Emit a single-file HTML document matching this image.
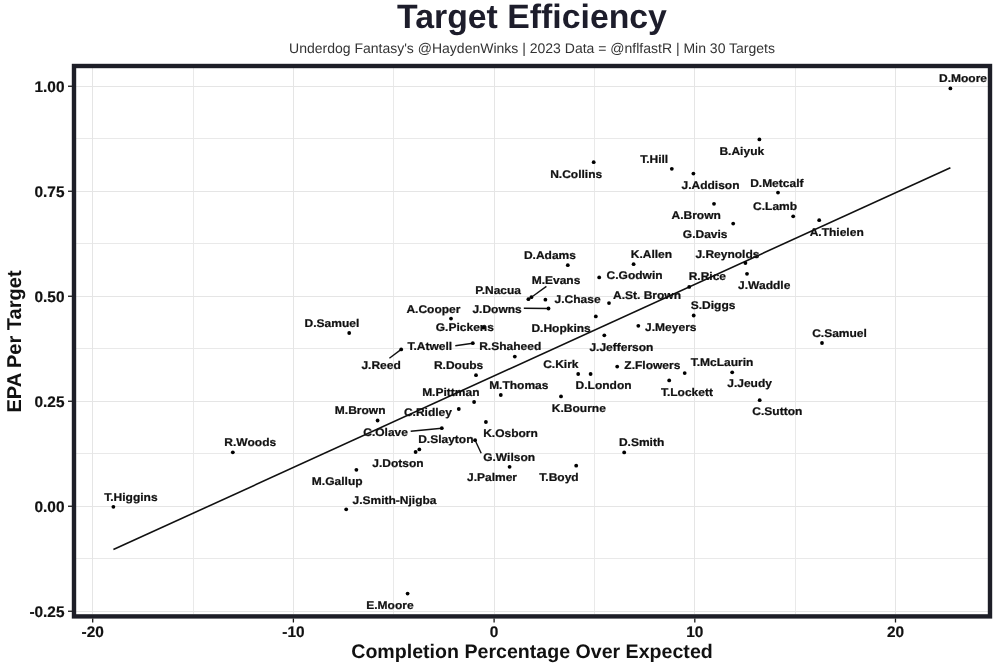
<!DOCTYPE html>
<html><head><meta charset="utf-8"><title>Target Efficiency</title>
<style>
html,body{margin:0;padding:0;background:#fff;}
body{width:1000px;height:667px;overflow:hidden;}
svg{display:block;will-change:transform;font-family:"Liberation Sans",Arial,sans-serif;text-rendering:geometricPrecision;}
.gm{stroke:#e9e9e9;stroke-width:1;}
.gM{stroke:#e5e5e5;stroke-width:1;}
.tk{stroke:#1a1a1a;stroke-width:1.3;}
.ax{font-size:15.4px;font-weight:bold;fill:#111;stroke:#111;stroke-width:0.2px;}
.lab text{font-size:12px;font-weight:bold;fill:#111;text-anchor:middle;stroke:#111;stroke-width:0.25px;}
</style></head>
<body>
<svg width="1000" height="667" viewBox="0 0 1000 667">
<rect width="1000" height="667" fill="#fff"/>
<text x="532" y="28" text-anchor="middle" style="font-size:33.8px;font-weight:bold;fill:#1d1d2b">Target Efficiency</text>
<text x="532" y="52.5" text-anchor="middle" style="font-size:14px;fill:#333">Underdog Fantasy's @HaydenWinks | 2023 Data = @nflfastR | Min 30 Targets</text>
<g>
<line x1="193.5" y1="68" x2="193.5" y2="614" class="gm"/>
<line x1="393.5" y1="68" x2="393.5" y2="614" class="gm"/>
<line x1="594.5" y1="68" x2="594.5" y2="614" class="gm"/>
<line x1="795.5" y1="68" x2="795.5" y2="614" class="gm"/>
<line x1="76" y1="558.5" x2="988" y2="558.5" class="gm"/>
<line x1="76" y1="453.5" x2="988" y2="453.5" class="gm"/>
<line x1="76" y1="348.5" x2="988" y2="348.5" class="gm"/>
<line x1="76" y1="243.5" x2="988" y2="243.5" class="gm"/>
<line x1="76" y1="138.5" x2="988" y2="138.5" class="gm"/>
<line x1="92.5" y1="68" x2="92.5" y2="614" class="gM"/>
<line x1="293.5" y1="68" x2="293.5" y2="614" class="gM"/>
<line x1="494.5" y1="68" x2="494.5" y2="614" class="gM"/>
<line x1="694.5" y1="68" x2="694.5" y2="614" class="gM"/>
<line x1="895.5" y1="68" x2="895.5" y2="614" class="gM"/>
<line x1="76" y1="611.5" x2="988" y2="611.5" class="gM"/>
<line x1="76" y1="506.5" x2="988" y2="506.5" class="gM"/>
<line x1="76" y1="401.5" x2="988" y2="401.5" class="gM"/>
<line x1="76" y1="296.5" x2="988" y2="296.5" class="gM"/>
<line x1="76" y1="191.5" x2="988" y2="191.5" class="gM"/>
<line x1="76" y1="86.5" x2="988" y2="86.5" class="gM"/>
</g>
<line x1="113.4" y1="549.6" x2="950.4" y2="167.8" stroke="#111" stroke-width="1.6"/>
<g stroke="#111" stroke-width="1.4">
<line x1="531.4" y1="297.2" x2="546.4" y2="286.4"/>
<line x1="523.8" y1="308.2" x2="548.5" y2="308.5"/>
<line x1="455.3" y1="345.8" x2="472.8" y2="343.2"/>
<line x1="389.4" y1="358.2" x2="401.2" y2="349.4"/>
<line x1="410.7" y1="431.2" x2="441.8" y2="428.2"/>
<line x1="475.1" y1="440.2" x2="481.2" y2="453.2"/>
</g>
<g fill="#000">
<circle cx="950.4" cy="88.4" r="1.9"/>
<circle cx="759.4" cy="139.4" r="1.9"/>
<circle cx="593.7" cy="162.2" r="1.9"/>
<circle cx="671.8" cy="168.8" r="1.9"/>
<circle cx="693.4" cy="173.6" r="1.9"/>
<circle cx="778" cy="192.6" r="1.9"/>
<circle cx="714" cy="203.8" r="1.9"/>
<circle cx="793.2" cy="216.3" r="1.9"/>
<circle cx="733.2" cy="223.6" r="1.9"/>
<circle cx="819.2" cy="220.2" r="1.9"/>
<circle cx="567.8" cy="265.2" r="1.9"/>
<circle cx="633.6" cy="264.2" r="1.9"/>
<circle cx="745.4" cy="263" r="1.9"/>
<circle cx="599.2" cy="277.4" r="1.9"/>
<circle cx="689.2" cy="286.9" r="1.9"/>
<circle cx="747" cy="273.8" r="1.9"/>
<circle cx="528.4" cy="299.2" r="1.9"/>
<circle cx="531.4" cy="297.2" r="1.9"/>
<circle cx="545.4" cy="299.7" r="1.9"/>
<circle cx="609" cy="303.1" r="1.9"/>
<circle cx="548.5" cy="308.5" r="1.9"/>
<circle cx="693.7" cy="315.5" r="1.9"/>
<circle cx="451" cy="318.6" r="1.9"/>
<circle cx="349.2" cy="333" r="1.9"/>
<circle cx="483.5" cy="327.5" r="1.9"/>
<circle cx="595.8" cy="316.4" r="1.9"/>
<circle cx="638.3" cy="325.8" r="1.9"/>
<circle cx="822" cy="343" r="1.9"/>
<circle cx="604.3" cy="335.3" r="1.9"/>
<circle cx="472.8" cy="343.2" r="1.9"/>
<circle cx="514.8" cy="356.6" r="1.9"/>
<circle cx="401.2" cy="349.4" r="1.9"/>
<circle cx="476" cy="375.2" r="1.9"/>
<circle cx="578.2" cy="374" r="1.9"/>
<circle cx="617.2" cy="366.6" r="1.9"/>
<circle cx="684.7" cy="373.1" r="1.9"/>
<circle cx="500.8" cy="395" r="1.9"/>
<circle cx="590.6" cy="374" r="1.9"/>
<circle cx="474.1" cy="402" r="1.9"/>
<circle cx="669.2" cy="380.4" r="1.9"/>
<circle cx="732.2" cy="372.3" r="1.9"/>
<circle cx="561" cy="396.4" r="1.9"/>
<circle cx="377.6" cy="420.5" r="1.9"/>
<circle cx="458.8" cy="409" r="1.9"/>
<circle cx="759.7" cy="400.2" r="1.9"/>
<circle cx="441.8" cy="428.2" r="1.9"/>
<circle cx="419.3" cy="449.4" r="1.9"/>
<circle cx="485.9" cy="422" r="1.9"/>
<circle cx="624.2" cy="452.4" r="1.9"/>
<circle cx="232.8" cy="452.3" r="1.9"/>
<circle cx="415.6" cy="452" r="1.9"/>
<circle cx="475.1" cy="440.2" r="1.9"/>
<circle cx="356.4" cy="469.8" r="1.9"/>
<circle cx="509.6" cy="466.8" r="1.9"/>
<circle cx="576.2" cy="465.7" r="1.9"/>
<circle cx="113.4" cy="506.8" r="1.9"/>
<circle cx="346.2" cy="509.3" r="1.9"/>
<circle cx="407.6" cy="593.6" r="1.9"/>
</g>
<g class="lab">
<text transform="translate(963,82.1) scale(1,0.93)">D.Moore</text>
<text transform="translate(741.8,154.7) scale(1,0.93)">B.Aiyuk</text>
<text transform="translate(576.15,177.8) scale(1,0.93)">N.Collins</text>
<text transform="translate(654.2,162.8) scale(1,0.93)">T.Hill</text>
<text transform="translate(710.5,188.7) scale(1,0.93)">J.Addison</text>
<text transform="translate(776.8,186.7) scale(1,0.93)">D.Metcalf</text>
<text transform="translate(696.2,218.7) scale(1,0.93)">A.Brown</text>
<text transform="translate(775.1,210.3) scale(1,0.93)">C.Lamb</text>
<text transform="translate(705.2,238.3) scale(1,0.93)">G.Davis</text>
<text transform="translate(836.7,235.7) scale(1,0.93)">A.Thielen</text>
<text transform="translate(549.9,259.1) scale(1,0.93)">D.Adams</text>
<text transform="translate(651.4,258.1) scale(1,0.93)">K.Allen</text>
<text transform="translate(727.4,257.9) scale(1,0.93)">J.Reynolds</text>
<text transform="translate(634.6,279.1) scale(1,0.93)">C.Godwin</text>
<text transform="translate(707.3,280.3) scale(1,0.93)">R.Rice</text>
<text transform="translate(764.2,289.1) scale(1,0.93)">J.Waddle</text>
<text transform="translate(498.1,293.7) scale(1,0.93)">P.Nacua</text>
<text transform="translate(556,283.7) scale(1,0.93)">M.Evans</text>
<text transform="translate(577.6,302.7) scale(1,0.93)">J.Chase</text>
<text transform="translate(647,298.7) scale(1,0.93)">A.St. Brown</text>
<text transform="translate(497.1,312.7) scale(1,0.93)">J.Downs</text>
<text transform="translate(713.1,309.3) scale(1,0.93)">S.Diggs</text>
<text transform="translate(433.4,312.5) scale(1,0.93)">A.Cooper</text>
<text transform="translate(331.9,327.3) scale(1,0.93)">D.Samuel</text>
<text transform="translate(464.8,331.4) scale(1,0.93)">G.Pickens</text>
<text transform="translate(561.1,331.5) scale(1,0.93)">D.Hopkins</text>
<text transform="translate(670.8,331.1) scale(1,0.93)">J.Meyers</text>
<text transform="translate(839.5,336.5) scale(1,0.93)">C.Samuel</text>
<text transform="translate(621.4,350.7) scale(1,0.93)">J.Jefferson</text>
<text transform="translate(429.8,350.3) scale(1,0.93)">T.Atwell</text>
<text transform="translate(510.2,350.1) scale(1,0.93)">R.Shaheed</text>
<text transform="translate(381.1,368.9) scale(1,0.93)">J.Reed</text>
<text transform="translate(458.6,369.1) scale(1,0.93)">R.Doubs</text>
<text transform="translate(560.8,368.3) scale(1,0.93)">C.Kirk</text>
<text transform="translate(652.3,369.3) scale(1,0.93)">Z.Flowers</text>
<text transform="translate(722.1,365.7) scale(1,0.93)">T.McLaurin</text>
<text transform="translate(518.8,388.5) scale(1,0.93)">M.Thomas</text>
<text transform="translate(603.6,388.9) scale(1,0.93)">D.London</text>
<text transform="translate(450.8,395.7) scale(1,0.93)">M.Pittman</text>
<text transform="translate(686.9,395.5) scale(1,0.93)">T.Lockett</text>
<text transform="translate(749.6,387.1) scale(1,0.93)">J.Jeudy</text>
<text transform="translate(578.8,411.5) scale(1,0.93)">K.Bourne</text>
<text transform="translate(360.2,414.3) scale(1,0.93)">M.Brown</text>
<text transform="translate(427.9,416.1) scale(1,0.93)">C.Ridley</text>
<text transform="translate(777.3,415.3) scale(1,0.93)">C.Sutton</text>
<text transform="translate(385.6,435.5) scale(1,0.93)">C.Olave</text>
<text transform="translate(445.8,442.7) scale(1,0.93)">D.Slayton</text>
<text transform="translate(510.5,437.3) scale(1,0.93)">K.Osborn</text>
<text transform="translate(641.6,446.2) scale(1,0.93)">D.Smith</text>
<text transform="translate(250.25,446.3) scale(1,0.93)">R.Woods</text>
<text transform="translate(397.9,467.1) scale(1,0.93)">J.Dotson</text>
<text transform="translate(509.1,460.5) scale(1,0.93)">G.Wilson</text>
<text transform="translate(337.2,485.2) scale(1,0.93)">M.Gallup</text>
<text transform="translate(492,481.1) scale(1,0.93)">J.Palmer</text>
<text transform="translate(559,480.5) scale(1,0.93)">T.Boyd</text>
<text transform="translate(130.95,500.6) scale(1,0.93)">T.Higgins</text>
<text transform="translate(394.5,503.8) scale(1,0.93)">J.Smith-Njigba</text>
<text transform="translate(389.9,608.7) scale(1,0.93)">E.Moore</text>
</g>
<rect x="74" y="66" width="916" height="550.4" fill="none" stroke="#1d1e27" stroke-width="4.4"/>
<line x1="92.70" y1="618.5" x2="92.70" y2="622.5" class="tk"/>
<text x="92.70" y="637" class="ax" text-anchor="middle">-20</text>
<line x1="293.40" y1="618.5" x2="293.40" y2="622.5" class="tk"/>
<text x="293.40" y="637" class="ax" text-anchor="middle">-10</text>
<line x1="494.10" y1="618.5" x2="494.10" y2="622.5" class="tk"/>
<text x="494.10" y="637" class="ax" text-anchor="middle">0</text>
<line x1="694.80" y1="618.5" x2="694.80" y2="622.5" class="tk"/>
<text x="694.80" y="637" class="ax" text-anchor="middle">10</text>
<line x1="895.50" y1="618.5" x2="895.50" y2="622.5" class="tk"/>
<text x="895.50" y="637" class="ax" text-anchor="middle">20</text>
<line x1="68" y1="611.25" x2="72" y2="611.25" class="tk"/>
<text x="64.5" y="616.75" class="ax" text-anchor="end">-0.25</text>
<line x1="68" y1="506.25" x2="72" y2="506.25" class="tk"/>
<text x="64.5" y="511.75" class="ax" text-anchor="end">0.00</text>
<line x1="68" y1="401.25" x2="72" y2="401.25" class="tk"/>
<text x="64.5" y="406.75" class="ax" text-anchor="end">0.25</text>
<line x1="68" y1="296.25" x2="72" y2="296.25" class="tk"/>
<text x="64.5" y="301.75" class="ax" text-anchor="end">0.50</text>
<line x1="68" y1="191.25" x2="72" y2="191.25" class="tk"/>
<text x="64.5" y="196.75" class="ax" text-anchor="end">0.75</text>
<line x1="68" y1="86.25" x2="72" y2="86.25" class="tk"/>
<text x="64.5" y="91.75" class="ax" text-anchor="end">1.00</text>
<text x="532" y="657.5" text-anchor="middle" style="font-size:19.6px;font-weight:bold;fill:#111">Completion Percentage Over Expected</text>
<text transform="translate(21,341.5) rotate(-90)" text-anchor="middle" style="font-size:20.05px;font-weight:bold;fill:#111">EPA Per Target</text>
</svg>
</body></html>
